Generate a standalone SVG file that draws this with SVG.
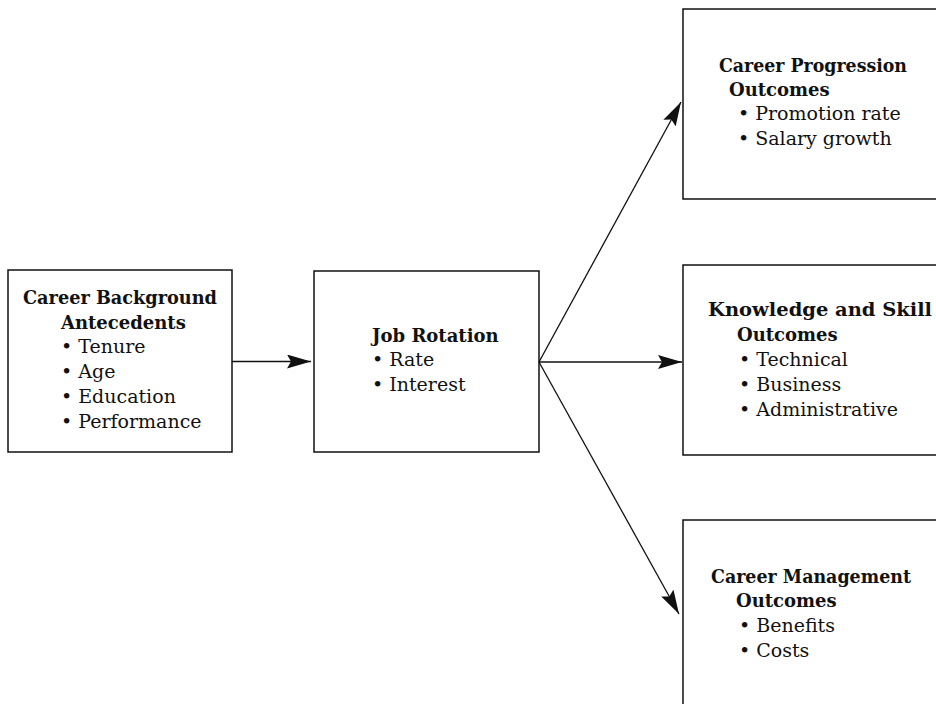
<svg xmlns="http://www.w3.org/2000/svg" width="936" height="704" viewBox="0 0 936 704">
<style>
.box{fill:none;stroke:#111;stroke-width:1.5}
.edge{fill:none;stroke:#111;stroke-width:1.3}
text{font-family:"DejaVu Serif","Liberation Serif",serif;font-size:19px;fill:#111}
.h{font-weight:bold;font-size:18px}
</style>
<defs>
<marker id="ah" markerUnits="userSpaceOnUse" markerWidth="26" markerHeight="14" refX="24" refY="7" orient="auto">
<path d="M0,0 L24,7 L0,14 L4,7 Z" fill="#111"/>
</marker>
</defs>
<rect width="936" height="704" fill="#fff"/>
<g id="n-background">
<rect class="box" x="8" y="270" width="224" height="182"/>
<text class="h" x="23" y="304" textLength="194" lengthAdjust="spacingAndGlyphs">Career Background</text>
<text class="h" x="61" y="329">Antecedents</text>
<text x="61" y="353">• Tenure</text>
<text x="61" y="378">• Age</text>
<text x="61" y="403">• Education</text>
<text x="61" y="428">• Performance</text>
</g>
<g id="n-rotation">
<rect class="box" x="314" y="271" width="225" height="181"/>
<text class="h" x="372" y="342">Job Rotation</text>
<text x="372" y="366">• Rate</text>
<text x="372" y="391">• Interest</text>
</g>
<g id="n-progression">
<path class="box" d="M936,9 H683 V199 H936"/>
<text class="h" x="719" y="72" textLength="188" lengthAdjust="spacingAndGlyphs">Career Progression</text>
<text class="h" x="729" y="96">Outcomes</text>
<text x="738" y="120">• Promotion rate</text>
<text x="738" y="145">• Salary growth</text>
</g>
<g id="n-knowledge">
<path class="box" d="M936,265 H683 V455 H936"/>
<text class="h" x="708" y="316" textLength="224" lengthAdjust="spacingAndGlyphs">Knowledge and Skill</text>
<text class="h" x="737" y="341">Outcomes</text>
<text x="739" y="366">• Technical</text>
<text x="739" y="391">• Business</text>
<text x="739" y="416">• Administrative</text>
</g>
<g id="n-management">
<path class="box" d="M936,520 H683 V704"/>
<text class="h" x="711" y="583" textLength="200" lengthAdjust="spacingAndGlyphs">Career Management</text>
<text class="h" x="736" y="607">Outcomes</text>
<text x="739" y="632">• Benefits</text>
<text x="739" y="657">• Costs</text>
</g>
<g id="connectors">
<line class="edge" x1="232" y1="361.5" x2="311" y2="361.5" marker-end="url(#ah)"/>
<line class="edge" x1="539" y1="362" x2="681" y2="102" marker-end="url(#ah)"/>
<line class="edge" x1="539" y1="362" x2="682" y2="362" marker-end="url(#ah)"/>
<line class="edge" x1="539" y1="362" x2="679" y2="614" marker-end="url(#ah)"/>
</g>
</svg>
